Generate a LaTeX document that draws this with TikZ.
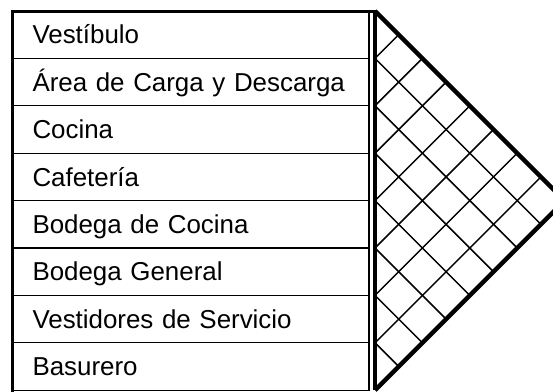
\documentclass[tikz,border=0pt]{standalone}
\usepackage{fontspec}
\setmainfont{Liberation Sans}
\usetikzlibrary{positioning,calc}

\begin{document}
\begin{tikzpicture}[
  x=1pt, y=-1pt,
  font=\fontsize{25.9}{30}\selectfont,
  row/.style={rectangle, draw, line width=1.2pt, outer sep=0pt,
    text width=316pt, inner xsep=20.5pt, inner ysep=0pt, align=left,
    minimum height=47.4pt, text height=18.5pt, text depth=0pt},
  frame/.style={line width=3pt, line cap=rect},
  edge/.style={line width=4.5pt},
  grid/.style={line width=1.5pt}]
\clip (0,0) rectangle (553,391);
% list of spaces
\node[row, anchor=north west] (vest) at (12,11) {Vestíbulo};
\node[row, below=0pt of vest] (carga) {Área de Carga y Descarga};
\node[row, below=0pt of carga] (cocina) {Cocina};
\node[row, below=0pt of cocina] (cafe) {Cafetería};
\node[row, below=0pt of cafe] (bodcoc) {Bodega de Cocina};
\node[row, below=0pt of bodcoc] (bodgen) {Bodega General};
\node[row, below=0pt of bodgen] (vestser) {Vestidores de Servicio};
\node[row, below=0pt of vestser] (basura) {Basurero};
\draw[frame] (basura.south west) -- (vest.north west) -- (375,11);
% matrix
\coordinate (mtop) at (375,11);
\coordinate (mbot) at (375,{11+8*47.4});
\coordinate (apex) at ({375+4*47.4},{11+4*47.4});
\foreach \k in {1,...,7} {
  \draw[grid] (375,{11+\k*47.4}) -- ++({\k*47.4/2},{-\k*47.4/2});
  \draw[grid] (375,{11+\k*47.4}) -- ++({(8-\k)*47.4/2},{(8-\k)*47.4/2});
}
\draw[edge] (mtop) -- (mbot);
\draw[edge, line join=miter] (mtop) -- (apex) -- (mbot);
\end{tikzpicture}
\end{document}
